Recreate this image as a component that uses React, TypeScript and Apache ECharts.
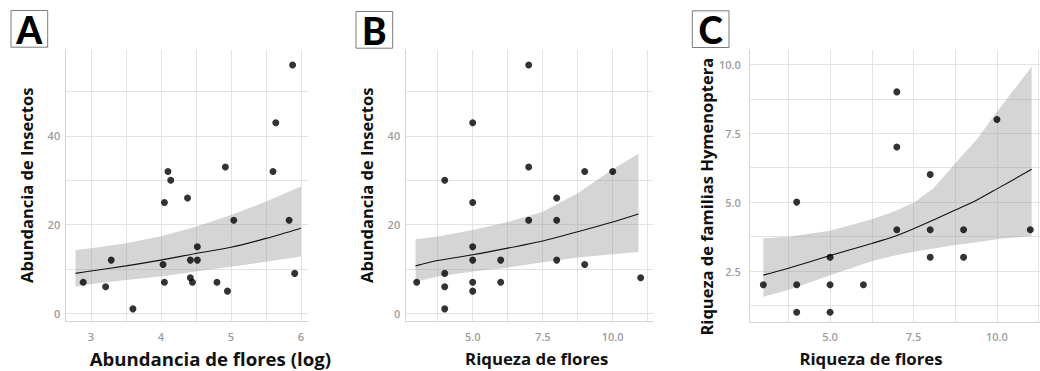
import React, { useEffect, useRef } from "react";
import * as echarts from "echarts";

// ---------- Panel A: Abundancia de flores (log) vs Abundancia de Insectos ----------
const aFlowersLog = [2.89, 3.21, 3.29, 3.6, 4.03, 4.05, 4.05, 4.1, 4.14, 4.38, 4.42, 4.42, 4.45, 4.52, 4.52, 4.8, 4.92, 4.95, 5.04, 5.6, 5.64, 5.83, 5.88, 5.91];
const aInsects = [7, 6, 12, 1, 11, 7, 25, 32, 30, 26, 12, 8, 7, 15, 12, 7, 33, 5, 21, 32, 43, 21, 56, 9];
const aFitX = [2.78, 3, 3.5, 4, 4.5, 5, 5.5, 6];
const aFit = [9.0, 9.55, 10.7, 12.0, 13.5, 14.9, 16.9, 19.2];
const aLower = [6.0, 6.6, 7.5, 8.3, 9.4, 10.5, 11.6, 12.8];
const aUpper = [14.3, 14.7, 15.8, 17.4, 19.5, 22.2, 25.2, 28.6];

// ---------- Panel B: Riqueza de flores vs Abundancia de Insectos ----------
const bFlowerRichness = [3, 4, 4, 4, 4, 5, 5, 5, 5, 5, 5, 6, 6, 7, 7, 7, 8, 8, 8, 9, 9, 10, 11];
const bInsects = [7, 9, 6, 1, 30, 43, 25, 15, 12, 7, 5, 12, 7, 56, 33, 21, 26, 21, 12, 32, 11, 32, 8];
const bFitX = [2.96, 3.75, 5, 6.25, 7.5, 8.75, 10, 10.92];
const bFit = [10.7, 11.9, 13.2, 14.7, 16.3, 18.4, 20.6, 22.4];
const bLower = [7.1, 8.3, 9.4, 10.3, 11.5, 12.6, 13.3, 13.8];
const bUpper = [16.7, 17.3, 18.8, 20.6, 22.9, 27.1, 32.5, 36.0];

// ---------- Panel C: Riqueza de flores vs Riqueza de familias Hymenoptera ----------
const cFlowerRichness = [3, 4, 4, 4, 5, 5, 5, 6, 7, 7, 7, 8, 8, 8, 9, 9, 10, 11];
const cFamilies = [2, 5, 2, 1, 3, 2, 1, 2, 9, 7, 4, 6, 4, 3, 4, 3, 8, 4];
const cFitX = [3, 3.75, 5, 6.25, 6.9, 7.5, 8.1, 8.75, 9.4, 10, 11.04];
const cFit = [2.35, 2.6, 3.06, 3.5, 3.74, 4.03, 4.35, 4.71, 5.08, 5.48, 6.19];
const cLower = [1.57, 1.81, 2.35, 2.85, 3.05, 3.2, 3.32, 3.44, 3.54, 3.65, 3.77];
const cUpper = [3.69, 3.74, 3.96, 4.38, 4.65, 4.98, 5.5, 6.41, 7.28, 8.28, 9.91];

const panelLetters = ["A", "B", "C"];
const xTitles = ["Abundancia de flores (log)", "Riqueza de flores", "Riqueza de flores"];
const yTitles = ["Abundancia de Insectos", "Abundancia de Insectos", "Riqueza de familias Hymenoptera"];

const FONT = "'Open Sans', 'Noto Sans', sans-serif";
const GRID_COLOR = "#e3e3e3";
const AXIS_COLOR = "#d4d4d4";
const LABEL_COLOR = "#9c9c9c";
const BAND_COLOR = "rgba(150,150,150,0.4)";

const isMultiple = (v: number, step: number) => Math.abs(v / step - Math.round(v / step)) < 1e-6;
const zip = (xs: number[], ys: number[]) => xs.map((x, i) => [x, ys[i]]);

function makeAxis(idx: number, min: number, max: number, step: number, labelStep: number, decimals: number, margin: number) {
  return {
    type: "value",
    gridIndex: idx,
    min,
    max,
    minInterval: step,
    maxInterval: step,
    axisLine: { show: true, onZero: false, lineStyle: { color: AXIS_COLOR, width: 1 } },
    axisTick: { show: false },
    splitLine: { show: true, showMinLine: false, showMaxLine: false, lineStyle: { color: GRID_COLOR, width: 1 } },
    axisLabel: {
      show: true,
      margin,
      color: LABEL_COLOR,
      fontSize: 11,
      fontWeight: 600,
      fontFamily: FONT,
      showMinLabel: false,
      showMaxLabel: false,
      formatter: (v: number) => (isMultiple(v, labelStep) ? v.toFixed(decimals) : ""),
    },
  };
}

function panelSeries(idx: number, fx: number[], fit: number[], lower: number[], upper: number[], px: number[], py: number[]) {
  return [
    {
      type: "custom",
      xAxisIndex: idx,
      yAxisIndex: idx,
      data: [[fx[0], lower[0]]],
      silent: true,
      clip: true,
      z: 2,
      renderItem: (_params: any, api: any) => {
        const top = fx.map((x, i) => api.coord([x, upper[i]]));
        const bottom = fx.map((x, i) => api.coord([x, lower[i]])).reverse();
        return {
          type: "polygon",
          shape: { points: top.concat(bottom) },
          style: { fill: BAND_COLOR, stroke: "none" },
        };
      },
    },
    {
      type: "line",
      xAxisIndex: idx,
      yAxisIndex: idx,
      data: zip(fx, fit),
      smooth: 0.3,
      symbol: "none",
      silent: true,
      lineStyle: { color: "#111", width: 1.1 },
      z: 3,
    },
    {
      type: "scatter",
      xAxisIndex: idx,
      yAxisIndex: idx,
      data: zip(px, py),
      symbol: "circle",
      symbolSize: 7,
      itemStyle: { color: "#000" },
      silent: true,
      z: 4,
    },
  ];
}

const boxes = [
  { x: 11, y: 10.5, cx: 29.3, cy: 29.5 },
  { x: 356, y: 11.5, cx: 374.3, cy: 30.3 },
  { x: 692.3, y: 10.8, cx: 710.7, cy: 29.5 },
];
const yTitlePos = [
  { x: 26, y: 185.3 },
  { x: 366.7, y: 185.3 },
  { x: 706.7, y: 196.7 },
];
const xTitlePos = [
  { x: 210.3, y: 358.5 },
  { x: 536.7, y: 358.5 },
  { x: 871, y: 358.5 },
];
const xTitleSize = [18.6, 16.8, 16.8];
const yTitleSize = [16.5, 16.5, 16.5];

export default function App() {
  const ref = useRef<HTMLDivElement>(null);

  useEffect(() => {
    if (!ref.current) return;
    const chart = echarts.init(ref.current, undefined, { renderer: "svg" });

    const graphic: any[] = [];
    panelLetters.forEach((letter, i) => {
      const b = boxes[i];
      graphic.push({
        type: "rect",
        shape: { x: b.x, y: b.y, width: 36.7, height: 36.7 },
        style: { fill: "#fff", stroke: "#7a7a7a", lineWidth: 1 },
        z: 10,
      });
      graphic.push({
        type: "text",
        x: b.cx,
        y: b.cy,
        style: {
          text: letter,
          fill: "#000",
          font: `900 37px Lato, 'Open Sans', sans-serif`,
          align: "center",
          verticalAlign: "middle",
        },
        z: 11,
      });
      graphic.push({
        type: "text",
        x: yTitlePos[i].x,
        y: yTitlePos[i].y,
        rotation: Math.PI / 2,
        style: {
          text: yTitles[i],
          fill: "#111",
          font: `700 ${yTitleSize[i]}px ${FONT}`,
          align: "center",
          verticalAlign: "middle",
        },
        z: 10,
      });
      graphic.push({
        type: "text",
        x: xTitlePos[i].x,
        y: xTitlePos[i].y,
        style: {
          text: xTitles[i],
          fill: "#111",
          font: `700 ${xTitleSize[i]}px ${FONT}`,
          align: "center",
          verticalAlign: "middle",
        },
        z: 10,
      });
    });

    const option: any = {
      animation: false,
      backgroundColor: "#fff",
      grid: [
        { left: 65.7, top: 50, width: 242.3, height: 271, outerBoundsMode: "none", containLabel: false },
        { left: 405.7, top: 50, width: 247.6, height: 271, outerBoundsMode: "none", containLabel: false },
        { left: 749.3, top: 50, width: 290.7, height: 272.7, outerBoundsMode: "none", containLabel: false },
      ],
      xAxis: [
        makeAxis(0, 2.64, 6.1, 0.5, 1, 0, 10),
        makeAxis(1, 2.607, 11.45, 1.25, 2.5, 1, 10),
        makeAxis(2, 2.58, 11.29, 1.25, 2.5, 1, 8.5),
      ],
      yAxis: [
        makeAxis(0, -1.74, 59.4, 10, 20, 0, 5.5),
        makeAxis(1, -1.74, 59.4, 10, 20, 0, 5.5),
        makeAxis(2, 0.624, 10.52, 1.25, 2.5, 1, 8.5),
      ],
      series: [
        ...panelSeries(0, aFitX, aFit, aLower, aUpper, aFlowersLog, aInsects),
        ...panelSeries(1, bFitX, bFit, bLower, bUpper, bFlowerRichness, bInsects),
        ...panelSeries(2, cFitX, cFit, cLower, cUpper, cFlowerRichness, cFamilies),
      ],
      graphic,
    };

    chart.setOption(option);
    return () => chart.dispose();
  }, []);

  return (
    <div
      ref={ref}
      style={{ position: "absolute", left: 0, top: 0, width: 1040, height: 371, background: "#fff" }}
    />
  );
}
